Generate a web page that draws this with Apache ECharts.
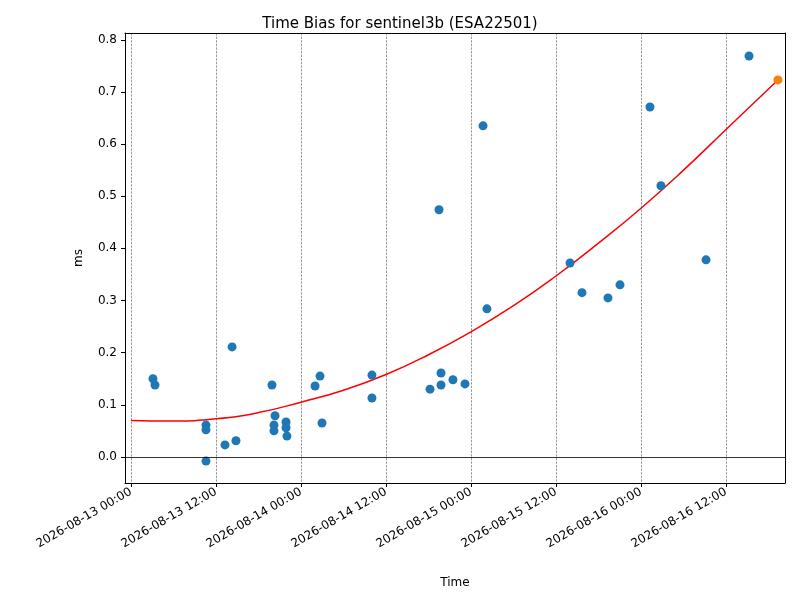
<!DOCTYPE html>
<html lang="en">
<head>
    <meta charset="UTF-8">
    <title>Time Bias</title>
    <script src="https://cdn.jsdelivr.net/npm/echarts@6/dist/echarts.min.js"></script>
</head>
<body style="margin:0">
<div id="chart" style="width: 800px; height: 600px;"></div>
<script>
    var obsTimes = ['2026-08-13 03:06', '2026-08-13 03:23', '2026-08-13 10:35', '2026-08-13 10:35', '2026-08-13 10:35',
        '2026-08-13 13:16', '2026-08-13 14:16', '2026-08-13 14:49', '2026-08-13 19:54', '2026-08-13 20:20',
        '2026-08-13 20:11', '2026-08-13 20:11', '2026-08-13 21:53', '2026-08-13 21:53', '2026-08-13 22:01',
        '2026-08-14 01:59', '2026-08-14 02:41', '2026-08-14 02:58', '2026-08-14 10:01', '2026-08-14 10:01',
        '2026-08-14 18:13', '2026-08-14 19:29', '2026-08-14 19:46', '2026-08-14 19:46', '2026-08-14 21:27',
        '2026-08-14 23:09', '2026-08-15 01:42', '2026-08-15 02:15', '2026-08-15 13:59', '2026-08-15 15:40',
        '2026-08-15 19:20', '2026-08-15 21:02', '2026-08-16 01:16', '2026-08-16 02:49', '2026-08-16 09:11',
        '2026-08-16 15:15'];
    var obsValues = [0.150, 0.138, 0.061, 0.052, -0.008,
        0.023, 0.211, 0.031, 0.138, 0.079,
        0.061, 0.050, 0.067, 0.056, 0.040,
        0.136, 0.155, 0.065, 0.157, 0.113,
        0.130, 0.474, 0.161, 0.138, 0.148,
        0.140, 0.635, 0.284, 0.372, 0.315,
        0.305, 0.330, 0.671, 0.520, 0.378,
        0.769];
    var predTime = '2026-08-16 19:20';
    var predValue = 0.723;
    var fitTimes = ['2026-08-13 00:00', '2026-08-13 06:00', '2026-08-13 12:00', '2026-08-13 18:00', '2026-08-14 00:00',
        '2026-08-14 06:00', '2026-08-14 12:00', '2026-08-14 18:00', '2026-08-15 00:00', '2026-08-15 06:00',
        '2026-08-15 12:00', '2026-08-15 18:00', '2026-08-16 00:00', '2026-08-16 06:00', '2026-08-16 12:00',
        '2026-08-16 19:20'];
    var fitValues = [0.070, 0.069, 0.073, 0.085, 0.105, 0.128, 0.158, 0.196, 0.240, 0.290,
        0.347, 0.410, 0.477, 0.550, 0.628, 0.723];
    var tickHours = [0, 12, 24, 36, 48, 60, 72, 84];
    var yTicks = [0.0, 0.1, 0.2, 0.3, 0.4, 0.5, 0.6, 0.7, 0.8];

    var t0 = Date.UTC(2026, 7, 13);
    function toHours(s) {
        var d = s.split(' '), p = d[0].split('-'), q = d[1].split(':');
        return (Date.UTC(+p[0], +p[1] - 1, +p[2], +q[0], +q[1]) - t0) / 3600000;
    }
    function pad(n) { return (n < 10 ? '0' : '') + n; }
    function hoursLabel(h) {
        var d = new Date(t0 + h * 3600000);
        return d.getUTCFullYear() + '-' + pad(d.getUTCMonth() + 1) + '-' + pad(d.getUTCDate()) + ' ' +
            pad(d.getUTCHours()) + ':' + pad(d.getUTCMinutes());
    }

    var obs = obsTimes.map(function (t, i) { return [toHours(t), obsValues[i]]; });
    var fit = fitTimes.map(function (t, i) { return [toHours(t), fitValues[i]]; });

    var chart = echarts.init(document.getElementById('chart'));
    var font = 'DejaVu Sans';
    var xMin = -0.85, xMax = 92.33, yMin = -0.05, yMax = 0.813;
    chart.setOption({
        animation: false,
        textStyle: {fontFamily: font},
        title: {
            text: 'Time Bias for sentinel3b (ESA22501)', left: 'center', top: 12,
            textStyle: {fontFamily: font, fontSize: 15, fontWeight: 'normal', color: '#000'}
        },
        grid: {left: 125, right: 15, top: 33, bottom: 117},
        xAxis: [{
            type: 'value', min: xMin, max: xMax,
            name: 'Time', nameLocation: 'middle', nameGap: 94,
            nameTextStyle: {fontSize: 12, color: '#000'},
            axisLine: {onZero: false, lineStyle: {color: '#000'}},
            axisTick: {customValues: tickHours, length: 4, lineStyle: {color: '#000'}},
            axisLabel: {
                customValues: tickHours, rotate: 30, color: '#000', fontSize: 12,
                formatter: function (v) { return hoursLabel(v); }
            },
            splitLine: {show: true, lineStyle: {color: '#555', type: 'dashed', width: 0.6}}
        }, {
            type: 'value', position: 'top', min: xMin, max: xMax,
            axisLine: {show: true, onZero: false, lineStyle: {color: '#000'}},
            axisTick: {show: false}, axisLabel: {show: false}, splitLine: {show: false}
        }],
        yAxis: [{
            type: 'value', min: yMin, max: yMax,
            name: 'ms', nameLocation: 'middle', nameGap: 40, nameRotate: 90,
            nameTextStyle: {fontSize: 12, color: '#000'},
            axisLine: {show: true, onZero: false, lineStyle: {color: '#000'}},
            axisTick: {show: true, customValues: yTicks, length: 4, lineStyle: {color: '#000'}},
            axisLabel: {
                customValues: yTicks, color: '#000', fontSize: 12,
                formatter: function (v) { return v.toFixed(1); }
            },
            splitLine: {show: false}
        }, {
            type: 'value', position: 'right', min: yMin, max: yMax,
            axisLine: {show: true, onZero: false, lineStyle: {color: '#000'}},
            axisTick: {show: false}, axisLabel: {show: false}, splitLine: {show: false}
        }],
        series: [
            {
                type: 'line', data: fit, smooth: true, symbol: 'none',
                lineStyle: {color: '#ff0000', width: 1.5}, z: 2,
                markLine: {
                    silent: true, symbol: 'none', label: {show: false},
                    lineStyle: {color: '#000', type: 'solid', width: 0.8},
                    data: [{yAxis: 0}]
                }
            },
            {
                type: 'scatter', data: obs, symbolSize: 9,
                itemStyle: {color: '#1f77b4', opacity: 1}, z: 3
            },
            {
                type: 'scatter', data: [[toHours(predTime), predValue]], symbolSize: 9,
                itemStyle: {color: '#ff7f0e', opacity: 1}, z: 4
            }
        ]
    });
</script>
</body>
</html>
